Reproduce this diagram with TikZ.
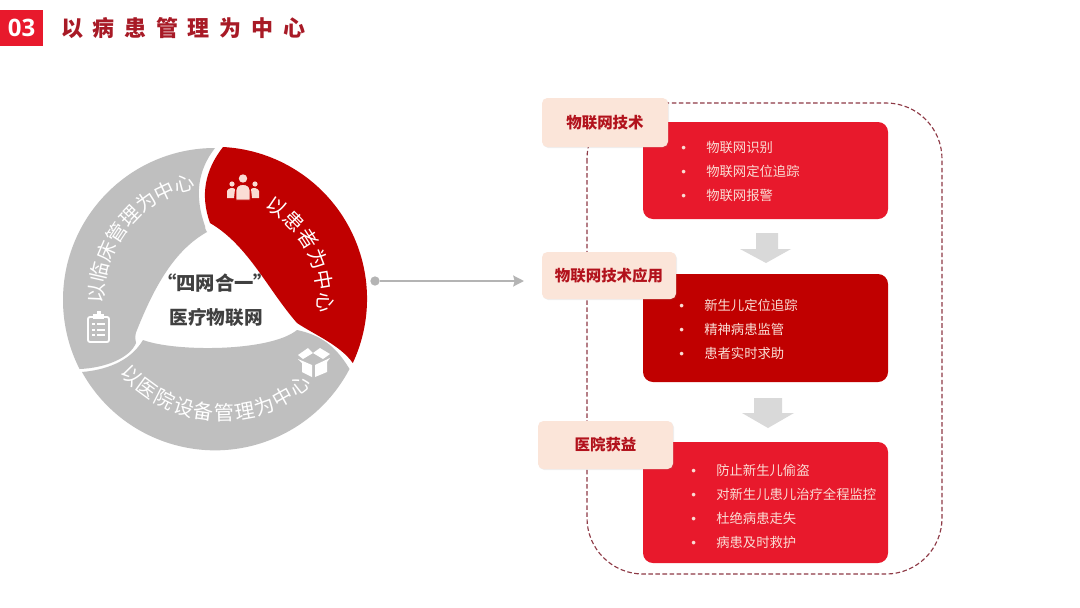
\documentclass[tikz,border=0pt]{standalone}
\usepackage{fontspec}
\setmainfont{Noto Sans CJK SC}
\newfontfamily\numfont{Open Sans}
\newfontfamily\titlefont[LetterSpace=44]{Noto Sans CJK SC}
\newfontfamily\bulfont{Liberation Sans}
\usetikzlibrary{arrows.meta,shadows}
\definecolor{redA}{HTML}{E8192C}
\definecolor{redB}{HTML}{C00000}
\definecolor{greyA}{HTML}{BFBFBF}
\definecolor{greyB}{HTML}{B4B4B4}
\definecolor{peach}{HTML}{FBE5D9}
\definecolor{labelred}{HTML}{B2121C}
\definecolor{titlered}{HTML}{A81A26}
\definecolor{pale}{HTML}{FADCD4}
\definecolor{dashc}{HTML}{8E3A46}
\definecolor{inktext}{HTML}{404040}
\newcommand{\bul}{\makebox[18.75pt][l]{\bulfont\fontsize{10pt}{10pt}\selectfont •}}
\tikzset{
  x=.75pt,y=-.75pt,
  seg/.style={fill=#1,draw=none},
  arcchar/.style={text=#1,font=\fontsize{15pt}{15pt}\selectfont,inner sep=0pt},
  listbox/.style={fill=#1,draw=none,rounded corners=7.5pt,inner sep=0pt},
  tagbox/.style={fill=peach,draw=none,rounded corners=4pt,inner sep=0pt,text=labelred,
    font=\bfseries\fontsize{11.6pt}{11.6pt}\selectfont,
    drop shadow={opacity=.12,shadow xshift=.8pt,shadow yshift=-.8pt}},
  itemtext/.style={anchor=west,text=pale,inner sep=0pt,font=\fontsize{10pt}{10pt}\selectfont},
  downarrow/.style={fill=#1,draw=none},
  iconfill/.style={fill=#1,draw=none},
}
\begin{document}
\begin{tikzpicture}
\useasboundingbox (0,0) rectangle (1080,607);
\fill[white] (0,0) rectangle (1080,607);
% header
\node[fill=redA,minimum width=32.25pt,minimum height=27pt,inner sep=0pt,text=white,
  font=\numfont\bfseries\fontsize{18pt}{18pt}\selectfont] (numtag) at (21.5,28) {03};
\node[anchor=west,inner sep=0pt,text=titlered,font=\titlefont\bfseries\fontsize{16.5pt}{16.5pt}\selectfont] (title) at (61,28) {以病患管理为中心};
% ring segments
\fill[seg=redB] (223,147) arc[start angle=-87,end angle=25,radius=152]
  .. controls (340,345) and (315,335) .. (297,323)
  .. controls (268,290) and (248,245) .. (210,223)
  .. controls (200,195) and (205,170) .. (223,147) -- cycle;
\fill[seg=greyA] (215,148) arc[start angle=-90,end angle=-207,radius=152]
  .. controls (105,368) and (130,358) .. (136,343)
  .. controls (135,338) and (135,334) .. (137,330)
  .. controls (155,285) and (175,250) .. (207,232)
  .. controls (205.5,230) and (205,228) .. (205,226)
  .. controls (194,195) and (198,170) .. (215,148) -- cycle;
\fill[seg=greyA] (82,372) arc[start angle=151,end angle=27.7,radius=152]
  .. controls (335,345) and (320,335) .. (297,330)
  .. controls (270,352) and (175,352) .. (143,340)
  .. controls (130,362) and (105,370) .. (82,372) -- cycle;
% ring texts
\foreach \ch [count=\i from 0] in {以,患,者,为,中,心}
  \node[arcchar=white,rotate={-(-56+11.6*\i+90)}] (pa\i) at ({215.5+110*cos(-56+11.6*\i)},{298.5+110*sin(-56+11.6*\i)}) {\ch};
\foreach \ch [count=\i from 0] in {以,临,床,管,理,为,中,心}
  \node[arcchar=white,rotate={-(182.6+10.34*\i+90)}] (cl\i) at ({215.5+119*cos(182.6+10.34*\i)},{298.5+119*sin(182.6+10.34*\i)}) {\ch};
\foreach \ch [count=\i from 0] in {以,医,院,设,备,管,理,为,中,心}
  \node[arcchar=white,rotate={90-(135.6-9.32*\i)}] (ho\i) at ({222+126*cos(135.6-9.32*\i)},{287+126*sin(135.6-9.32*\i)}) {\ch};
% centre text
\node[inner sep=0pt,text=inktext,font=\bfseries\fontsize{14.5pt}{14.5pt}\selectfont] (centreA) at (215,283) {“四网合一”};
\node[inner sep=0pt,text=inktext,font=\bfseries\fontsize{14pt}{14pt}\selectfont] (centreB) at (216,317) {医疗物联网};
% people icon
\fill[iconfill=pale] (232,184) circle[radius=2.6] (255,184) circle[radius=2.6];
\fill[iconfill=pale] (227,198) -- (227,191) .. controls (228,188) and (233,187) .. (235,189) -- (234,198) -- cycle;
\fill[iconfill=pale] (259,198) -- (259,191) .. controls (258,188) and (253,187) .. (251,189) -- (252,198) -- cycle;
\fill[iconfill=pale] (243,178.5) circle[radius=4.2];
\fill[iconfill=pale,draw=redB,line width=.7pt] (236,200) -- (236,190) .. controls (236,182.5) and (250,182.5) .. (250,190) -- (250,200) -- cycle;
% clipboard icon
\draw[white,line width=1.4pt,rounded corners=1.5pt] (88,317) rectangle (109,342);
\fill[white] (93,314) rectangle (104,319);
\fill[white] (96.5,311) rectangle (100.5,315);
\foreach \yy in {323,328.5,334}{
  \fill[white] (92,\yy) rectangle (94.5,{\yy+2});
  \fill[white] (96.5,\yy) rectangle (105,{\yy+2});
}
% box icon
\fill[white] (298,355) -- (308,348) -- (313,353) -- (303,359) -- cycle;
\fill[white] (313,353) -- (320,348) -- (330,354) -- (323,359) -- cycle;
\fill[white] (298,359) -- (312,365) -- (312,377) -- (302,372) -- (302,363) -- cycle;
\fill[white] (330,358) -- (315,365) -- (315,377) -- (327,372) -- (327,362) -- cycle;
% dashed frame
\draw[dashc,line width=.85pt,dash pattern=on 3.4pt off 1.9pt,rounded corners=42pt] (587,103) rectangle (942,574);
% list boxes
\node[listbox=redA,minimum width=183.75pt,minimum height=72.75pt] (boxA) at (765.5,170.5) {};
\node[listbox=redB,minimum width=183.75pt,minimum height=81pt] (boxB) at (765.5,328) {};
\node[listbox=redA,minimum width=183.75pt,minimum height=90.75pt] (boxC) at (765.5,502.5) {};
% tags
\node[tagbox,minimum width=94.5pt,minimum height=36.75pt] (tagA) at (605,122.5) {物联网技术};
\node[tagbox,minimum width=100.5pt,minimum height=35.25pt] (tagB) at (609,275.5) {物联网技术应用};
\node[tagbox,minimum width=101.25pt,minimum height=36pt] (tagC) at (605.5,445) {医院获益};
% items
\node[itemtext] (a1) at (681,147) {\bul 物联网识别};
\node[itemtext] (a2) at (681,171) {\bul 物联网定位追踪};
\node[itemtext] (a3) at (681,195) {\bul 物联网报警};
\node[itemtext] (b1) at (679,305) {\bul 新生儿定位追踪};
\node[itemtext] (b2) at (679,329) {\bul 精神病患监管};
\node[itemtext] (b3) at (679,353) {\bul 患者实时求助};
\node[itemtext] (c1) at (691,470) {\bul 防止新生儿偷盗};
\node[itemtext] (c2) at (691,494) {\bul 对新生儿患儿治疗全程监控};
\node[itemtext] (c3) at (691,518) {\bul 杜绝病患走失};
\node[itemtext] (c4) at (691,542) {\bul 病患及时救护};
% block arrows
\fill[downarrow=black!15] (756,233) -- (778,233) -- (778,249) -- (791,249) -- (766,263) -- (740,249) -- (756,249) -- cycle;
\fill[downarrow=black!15] (754,398) -- (782,398) -- (782,413) -- (794,413) -- (768,428) -- (742,413) -- (754,413) -- cycle;
% connector
\node[circle,fill=greyB,inner sep=0pt,minimum size=7pt] (dot) at (375,281) {};
\coordinate (arrowend) at (524,281);
\draw[greyB,line width=2.2pt,-{Stealth[length=8pt,width=8pt,inset=1pt]}] (dot) -- (arrowend);
\end{tikzpicture}
\end{document}
